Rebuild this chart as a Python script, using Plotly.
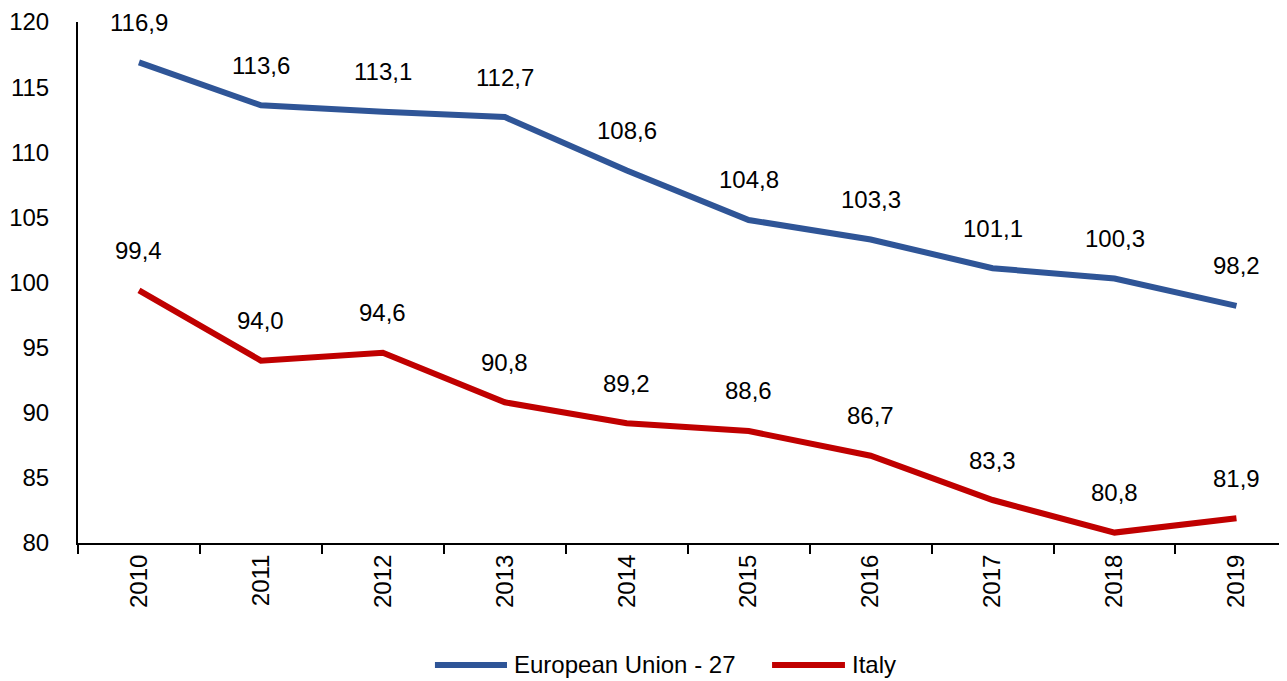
import plotly.graph_objects as go

years = ["2010", "2011", "2012", "2013", "2014", "2015", "2016", "2017", "2018", "2019"]
eu27 = [116.9, 113.6, 113.1, 112.7, 108.6, 104.8, 103.3, 101.1, 100.3, 98.2]
italy = [99.4, 94.0, 94.6, 90.8, 89.2, 88.6, 86.7, 83.3, 80.8, 81.9]
series_names = ["European Union - 27", "Italy"]
colors = ["#2F5597", "#C00000"]

FONT = "Liberation Sans, Arial, sans-serif"

fig = go.Figure()
for name, vals, col in zip(series_names, [eu27, italy], colors):
    fig.add_trace(go.Scatter(x=years, y=vals, mode="lines", name=name,
                             line=dict(color=col, width=6), showlegend=False))
    for i, v in enumerate(vals):
        fig.add_annotation(x=i, y=v, xref="x", yref="y",
                           text=f"{v:.1f}".replace(".", ","),
                           showarrow=False, yshift=40, yanchor="middle",
                           font=dict(family=FONT, size=24, color="black"))

# custom legend (long line symbols like the reference)
leg_y = -0.234
leg_items = [(0.2933, 0.3525, 0.3566), (0.5703, 0.6302, 0.6343)]
for (x0, x1, xt), name, col in zip(leg_items, series_names, colors):
    fig.add_shape(type="line", xref="paper", yref="paper", x0=x0, x1=x1, y0=leg_y, y1=leg_y,
                  line=dict(color=col, width=6))
    fig.add_annotation(xref="paper", yref="paper", x=xt, y=leg_y, text=name,
                       showarrow=False, xanchor="left", yanchor="middle",
                       font=dict(family=FONT, size=24, color="black"))

fig.update_layout(
    width=1287, height=681,
    margin=dict(l=70, r=0, t=14, b=146),
    plot_bgcolor="white", paper_bgcolor="white",
    font=dict(family=FONT, size=24, color="black"),
    showlegend=False,
    xaxis=dict(type="category", range=[-0.5, 9.48], tickson="boundaries",
               ticks="outside", ticklen=9, tickwidth=2, tickcolor="black",
               showline=True, linecolor="black", linewidth=2, showgrid=False,
               tickangle=-90, tickfont=dict(family=FONT, size=24, color="black")),
    yaxis=dict(range=[80, 120], dtick=5, showline=True, linecolor="black", linewidth=2,
               showgrid=False, zeroline=False, ticks="", ticklabelstandoff=22,
               tickfont=dict(family=FONT, size=24, color="black")),
)

fig.write_html("out.html")
